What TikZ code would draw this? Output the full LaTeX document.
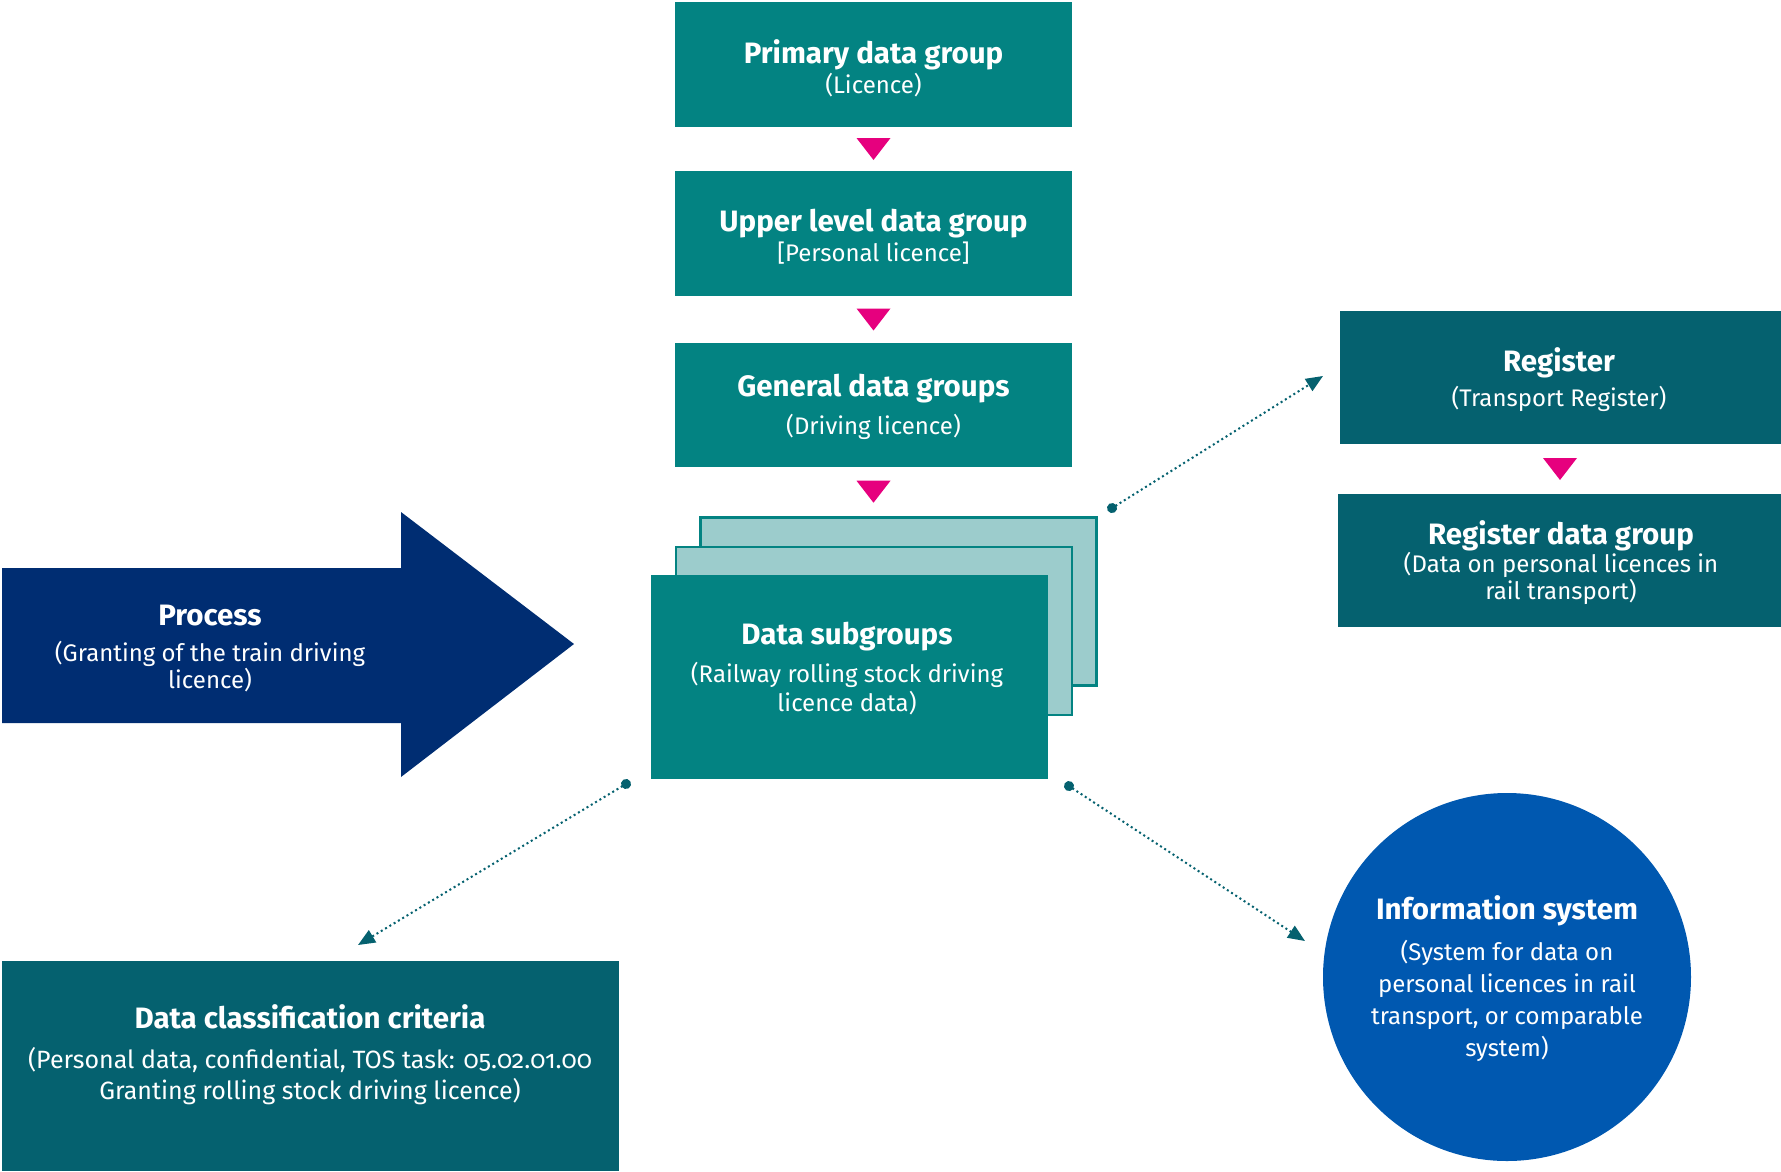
\documentclass[tikz,border=0pt]{standalone}
\usepackage{fontspec}
\setmainfont{Fira Sans}[Numbers=OldStyle]
\usetikzlibrary{arrows.meta,calc}

\definecolor{grpteal}{HTML}{038382}
\definecolor{cardlight}{HTML}{9CCCCC}
\definecolor{regteal}{HTML}{05616F}
\definecolor{procnavy}{HTML}{002D72}
\definecolor{infoblue}{HTML}{0058B0}
\definecolor{pinkc}{HTML}{E6007E}
\definecolor{conncol}{HTML}{05616F}

\newcommand\ttl[1]{{\fontsize{29.5}{29}\selectfont\bfseries #1}}
\newcommand\dtri[1]{\fill[pinkc] ([shift={(-17,-11)}]#1) -- ([shift={(17,-11)}]#1) -- ([shift={(0,11)}]#1) -- cycle;}

\begin{document}
\begin{tikzpicture}[x=1pt,y=-1pt,
  grp/.style={fill=grpteal, minimum width=397pt, inner sep=0pt},
  card/.style={fill=cardlight, draw=grpteal, line width=2.5pt,
    minimum width=396pt, minimum height=168pt, inner sep=0pt},
  regbox/.style={fill=regteal, inner sep=0pt},
  txt/.style={text=white, align=center, inner sep=0pt,
    font=\fontsize{24}{29}\selectfont},
  conn/.style={draw=conncol, line width=2pt, dash pattern=on 2pt off 3pt,
    {Circle[length=10pt]}-{Triangle[length=17pt,width=14pt]}}
]
\useasboundingbox (0,0) rectangle (1781,1171);

% main chain of data groups
\node[grp, minimum height=125pt] (prim) at (873.5,64.5) {};
\node[grp, minimum height=125pt] (upper) at (873.5,233.5) {};
\node[grp, minimum height=124pt] (general) at (873.5,405) {};

% stacked subgroup cards
\node[card] (back) at (898.5,601.5) {};
\node[card] (mid) at (874,631) {};
\node[grp, minimum height=204pt] (front) at (849.5,677) {};

% register side
\node[regbox, minimum width=441pt, minimum height=133pt] (reg) at (1560.5,377.5) {};
\node[regbox, minimum width=443pt, minimum height=133pt] (regdata) at (1559.5,560.5) {};

% classification and information system
\node[regbox, minimum width=617pt, minimum height=210pt] (class) at (310.5,1066) {};
\node[circle, fill=infoblue, minimum size=368pt, inner sep=0pt] (info) at (1507,977) {};

% process arrow
\fill[procnavy] (2,568) -- (401,568) -- (401,512) -- (574,644) -- (401,777)
  -- (401,723) -- (2,723) -- cycle;

% pink step markers
\coordinate (m1) at ($(prim.south)!0.5!(upper.north)$);
\coordinate (m2) at ($(upper.south)!0.5!(general.north)$);
\coordinate (m3) at ($(general.south)!0.5!(general.south|-back.north)$);
\coordinate (m4) at ($(reg.south)!0.5!(regdata.north)$);
\dtri{m1}
\dtri{m2}
\dtri{m3}
\dtri{m4}

% texts
\node[txt] (primt) at (873.5,68) {\ttl{Primary data group}\\[1pt](Licence)};
\node[txt] (uppert) at (873.5,237) {\ttl{Upper level data group}\\[1pt][Personal licence]};
\node[txt] (generalt) at (873.5,407) {\ttl{General data groups}\\[9pt](Driving licence)};
\node[txt] (frontt) at (847,668.5) {\ttl{Data subgroups}\\[9pt](Railway rolling stock driving\\licence data)};
\node[txt] (regt) at (1559,379.5) {\ttl{Register}\\[6pt](Transport Register)};
\node[txt, font=\fontsize{24}{27}\selectfont] (regdatat) at (1561,562.5)
  {\ttl{Register data group}\\[1pt](Data on personal licences in\\rail transport)};
\node[txt, font=\fontsize{24}{27}\selectfont] (proct) at (210,648.5)
  {\ttl{Process}\\[9pt](Granting of the train driving\\licence)};
\node[txt, font=\fontsize{25}{31}\selectfont] (classt) at (310,1054.5)
  {\ttl{Data classification criteria}\\[9pt](Personal data, confidential, TOS task: 05.02.01.00\\Granting rolling stock driving licence)};
\node[txt, font=\fontsize{24}{32}\selectfont] (infot) at (1507,979)
  {\ttl{Information system}\\[9pt](System for data on\\personal licences in rail\\transport, or comparable\\system)};

% dotted connectors
\coordinate (s1) at (1107.8,510.7);
\coordinate (e1) at (1323,376);
\coordinate (s2) at (630.3,781.4);
\coordinate (e2) at (358,945);
\coordinate (s3) at (1064.8,783.3);
\coordinate (e3) at (1305,941);
\draw[conn] (s1) -- (e1);
\draw[conn] (s2) -- (e2);
\draw[conn] (s3) -- (e3);
\end{tikzpicture}
\end{document}
